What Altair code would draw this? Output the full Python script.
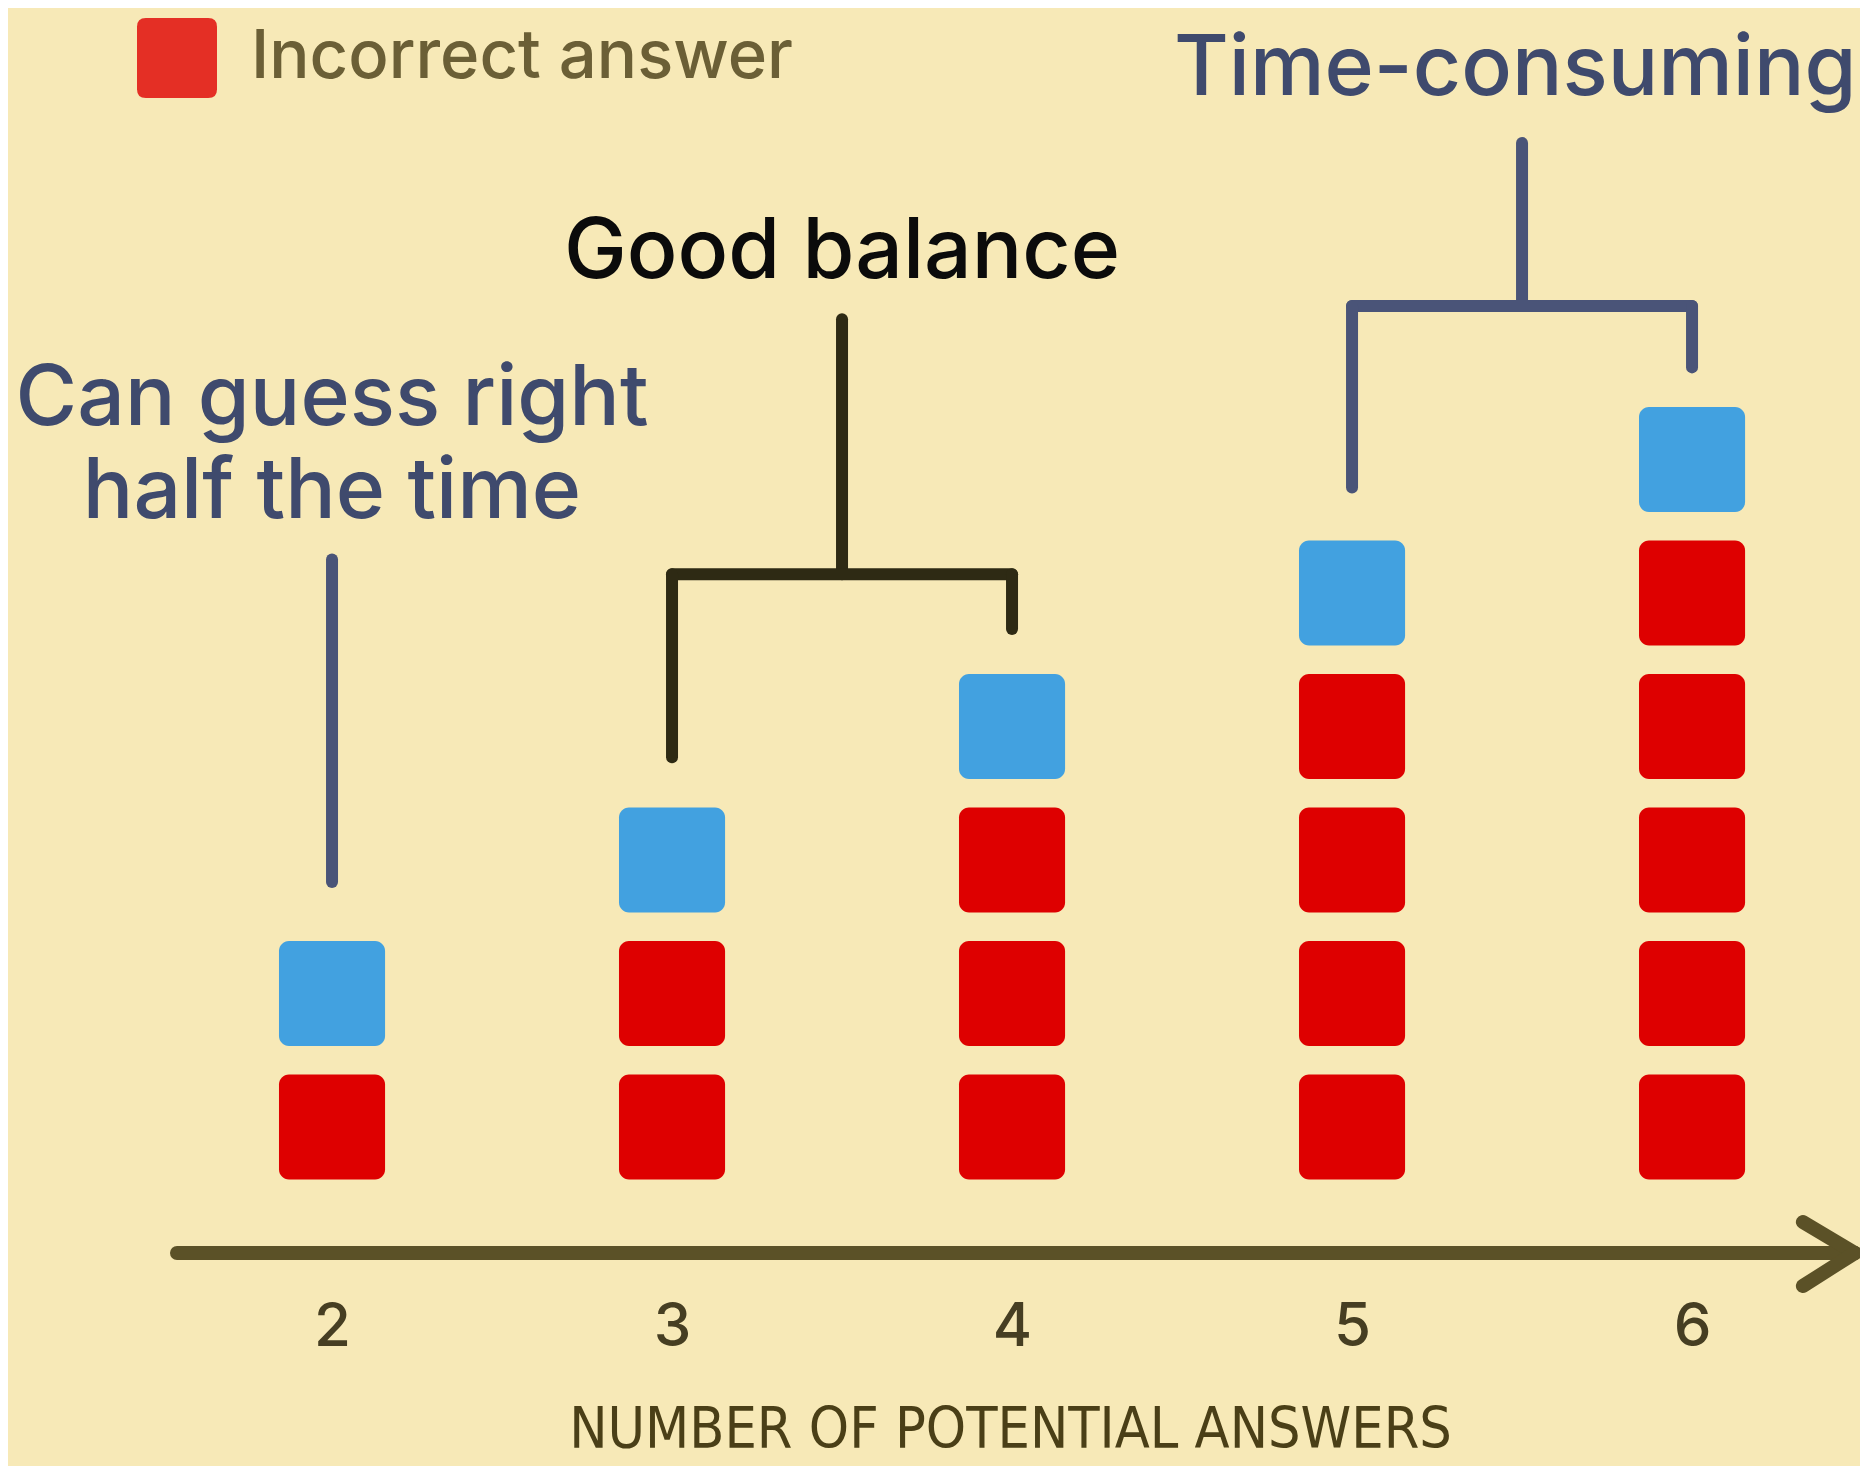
import altair as alt
import pandas as pd

# ---- data ----
answers = [2, 3, 4, 5, 6]
incorrect = [1, 2, 3, 4, 5]
correct = [1, 1, 1, 1, 1]
series = ["Incorrect answer", "Correct answer"]
series_colors = ["#DE0000", "#42A1E0"]

# annotations (data units)
navy_text = ["Can guess right", "half the time", "Time-consuming"]
navy_text_x = [2, 2, 5.48]
navy_text_y = [6.26, 5.56, 8.73]
black_text = ["Good balance"]
black_text_x = [3.5]
black_text_y = [7.36]

navy_seg_x = [2, 5.5, 5, 5, 6]
navy_seg_y = [5.25, 8.37, 7.15, 7.15, 7.15]
navy_seg_x2 = [2, 5.5, 6, 5, 6]
navy_seg_y2 = [2.835, 7.15, 7.15, 5.79, 6.69]

black_seg_x = [3.5, 3, 3, 4]
black_seg_y = [7.05, 5.14, 5.14, 5.14]
black_seg_x2 = [3.5, 4, 3, 4]
black_seg_y2 = [5.14, 5.14, 3.77, 4.73]

arrow_x = [1.544, 6.326, 6.326]
arrow_y = [0.056, 0.288, -0.191]
arrow_x2 = [6.479, 6.479, 6.479]
arrow_y2 = [0.056, 0.056, 0.056]

X_DOMAIN = [1.047, 6.494]
Y_DOMAIN = [0.056, 9.382]

rows = []
for n, inc, cor in zip(answers, incorrect, correct):
    for k in range(1, inc + 1):
        rows.append({"answers": n, "level": k, "kind": series[0]})
    for k in range(inc + 1, inc + cor + 1):
        rows.append({"answers": n, "level": k, "kind": series[1]})
squares = pd.DataFrame(rows)

xs = alt.Scale(domain=X_DOMAIN, nice=False, zero=False)
ys = alt.Scale(domain=Y_DOMAIN, nice=False, zero=False)

x_axis = alt.Axis(
    values=answers, format="d", ticks=False, domain=False, grid=False,
    labelFont="Inter", labelFontSize=60, labelFontWeight=500, labelColor="#463E22",
    labelPadding=45, tickSize=0,
    title="NUMBER OF POTENTIAL ANSWERS",
    titleFont="Liberation Sans Narrow, DejaVu Sans Condensed, sans-serif",
    titleFontSize=57, titleFontWeight="normal", titleColor="#4A3F17",
    titleX=1002, titleY=194, titleBaseline="alphabetic", titleAlign="center")

rounded = ("M-0.78,-1 L0.78,-1 Q1,-1 1,-0.78 L1,0.78 Q1,1 0.78,1 "
           "L-0.78,1 Q-1,1 -1,0.78 L-1,-0.78 Q-1,-1 -0.78,-1 Z")

sq = alt.Chart(squares).mark_rect(cornerRadius=10).transform_calculate(
    x1="datum.answers - 0.156", x2="datum.answers + 0.156",
    y1="datum.level - 0.393", y2="datum.level + 0.393",
).encode(
    x=alt.X("x1:Q", scale=xs, axis=x_axis),
    x2="x2:Q",
    y=alt.Y("y1:Q", scale=ys, axis=None),
    y2="y2:Q",
    color=alt.Color("kind:N", scale=alt.Scale(domain=series, range=series_colors),
                    legend=alt.Legend(values=["Incorrect answer"], orient="none",
                                      legendX=129, legendY=10, title=None,
                                      symbolType=rounded, symbolSize=6400,
                                      symbolOpacity=0.8, symbolStrokeWidth=0,
                                      labelFont="Inter", labelFontSize=67,
                                      labelFontWeight=500, labelLimit=0,
                                      labelColor="#6B5F36", labelOffset=34,
                                      padding=0)),
)

def segs(x, y, x2, y2, color, width):
    df = pd.DataFrame({"x": x, "y": y, "x2": x2, "y2": y2})
    return alt.Chart(df).mark_rule(color=color, strokeWidth=width, strokeCap="round").encode(
        x=alt.X("x:Q", scale=xs, axis=x_axis),
        y=alt.Y("y:Q", scale=ys, axis=None),
        x2="x2:Q", y2="y2:Q",
    )

def texts(t, x, y, color):
    df = pd.DataFrame({"t": t, "x": x, "y": y})
    return alt.Chart(df).mark_text(font="Inter", fontSize=84, fontWeight=500,
                                   align="center", baseline="alphabetic",
                                   color=color).encode(
        x=alt.X("x:Q", scale=xs, axis=x_axis),
        y=alt.Y("y:Q", scale=ys, axis=None),
        text="t:N",
    )

chart = alt.layer(
    sq,
    segs(navy_seg_x, navy_seg_y, navy_seg_x2, navy_seg_y2, "#4A5478", 12),
    segs(black_seg_x, black_seg_y, black_seg_x2, black_seg_y2, "#2E2A14", 12),
    segs(arrow_x, arrow_y, arrow_x2, arrow_y2, "#5B5127", 14),
    texts(navy_text, navy_text_x, navy_text_y, "#3F4A6D"),
    texts(black_text, black_text_x, black_text_y, "#0B0B0B"),
).properties(
    width=1852, height=1245,
    autosize=alt.AutoSizeParams(type="none"),
    padding={"left": 0, "top": 0, "right": 0, "bottom": 213},
    background="#F7E9B7",
).configure_view(strokeWidth=0)

chart.save("out.html", embed_options={"renderer": "svg", "actions": False})
